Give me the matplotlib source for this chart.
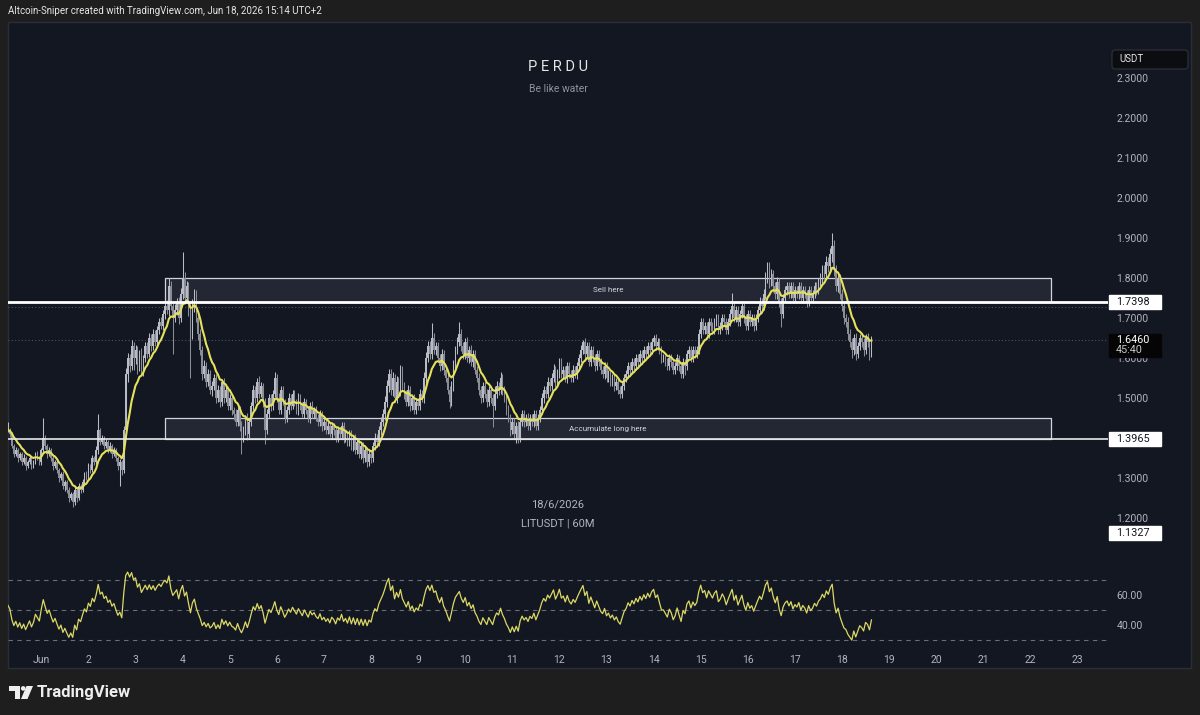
import numpy as np
import pandas as pd
import matplotlib
matplotlib.use("Agg")
import matplotlib.pyplot as plt
from matplotlib.patches import Rectangle, Polygon, Circle, FancyBboxPatch
import matplotlib.transforms as mtransforms

plt.rcParams['font.family'] = ['Roboto', 'DejaVu Sans']

# ---------------- data ----------------
first_hour = -17  # first candle, hours relative to Jun 1 00:00 (60M candles)

close = [
    # May 31 (last 17 hours)
    1.42, 1.41, 1.38, 1.36, 1.37, 1.35, 1.36, 1.34, 1.35, 1.33, 1.34, 1.35, 1.33, 1.34, 1.36, 1.35, 1.34,
    # Jun 1
    1.37, 1.40, 1.38, 1.36, 1.37, 1.35, 1.33, 1.34, 1.32, 1.30, 1.31, 1.28,
    1.29, 1.27, 1.25, 1.26, 1.24, 1.27, 1.25, 1.28, 1.27, 1.29, 1.31, 1.30,
    # Jun 2
    1.33, 1.32, 1.35, 1.34, 1.37, 1.42, 1.39, 1.40, 1.38, 1.39, 1.37, 1.38,
    1.36, 1.37, 1.35, 1.33, 1.34, 1.32, 1.42, 1.56, 1.60, 1.58, 1.63, 1.60,
    # Jun 3
    1.62, 1.58, 1.61, 1.57, 1.60, 1.63, 1.61, 1.65, 1.63, 1.66, 1.64, 1.67,
    1.69, 1.68, 1.71, 1.73, 1.72, 1.78, 1.73, 1.70, 1.72, 1.74, 1.70, 1.76,
    # Jun 4
    1.80, 1.75, 1.78, 1.72, 1.66, 1.73, 1.76, 1.70, 1.66, 1.62, 1.56, 1.58,
    1.54, 1.56, 1.52, 1.53, 1.55, 1.50, 1.52, 1.49, 1.54, 1.50, 1.52, 1.48,
    # Jun 5
    1.50, 1.47, 1.46, 1.44, 1.47, 1.43, 1.40, 1.42, 1.45, 1.41, 1.44, 1.48,
    1.52, 1.50, 1.54, 1.51, 1.53, 1.49, 1.42, 1.46, 1.50, 1.48, 1.51, 1.55,
    # Jun 6
    1.50, 1.47, 1.52, 1.49, 1.45, 1.47, 1.50, 1.48, 1.51, 1.49, 1.47, 1.50,
    1.48, 1.46, 1.49, 1.47, 1.45, 1.48, 1.46, 1.47, 1.45, 1.44, 1.46, 1.43,
    # Jun 7
    1.44, 1.42, 1.43, 1.41, 1.43, 1.42, 1.40, 1.42, 1.41, 1.43, 1.40, 1.41,
    1.39, 1.41, 1.38, 1.40, 1.37, 1.39, 1.36, 1.38, 1.35, 1.37, 1.34, 1.36,
    # Jun 8
    1.35, 1.38, 1.40, 1.39, 1.42, 1.44, 1.46, 1.49, 1.53, 1.56, 1.52, 1.55,
    1.50, 1.54, 1.52, 1.57, 1.53, 1.51, 1.49, 1.52, 1.48, 1.50, 1.47, 1.49,
    # Jun 9
    1.48, 1.51, 1.50, 1.55, 1.60, 1.63, 1.61, 1.65, 1.62, 1.63, 1.60, 1.58,
    1.61, 1.57, 1.55, 1.52, 1.49, 1.53, 1.58, 1.62, 1.64, 1.66, 1.63, 1.61,
    # Jun 10
    1.64, 1.60, 1.62, 1.59, 1.61, 1.57, 1.55, 1.52, 1.50, 1.53, 1.51, 1.49,
    1.52, 1.50, 1.48, 1.51, 1.53, 1.52, 1.55, 1.52, 1.50, 1.47, 1.45, 1.42,
    # Jun 11
    1.44, 1.41, 1.43, 1.40, 1.44, 1.46, 1.44, 1.45, 1.43, 1.45, 1.44, 1.46,
    1.43, 1.45, 1.47, 1.50, 1.52, 1.51, 1.54, 1.53, 1.55, 1.57, 1.54, 1.56,
    # Jun 12
    1.59, 1.56, 1.57, 1.55, 1.58, 1.56, 1.55, 1.57, 1.56, 1.58, 1.60, 1.62,
    1.64, 1.61, 1.63, 1.59, 1.62, 1.60, 1.58, 1.61, 1.59, 1.57, 1.56, 1.58,
    # Jun 13
    1.55, 1.56, 1.54, 1.55, 1.53, 1.54, 1.52, 1.51, 1.53, 1.55, 1.56, 1.58,
    1.57, 1.59, 1.58, 1.60, 1.59, 1.61, 1.60, 1.62, 1.61, 1.63, 1.62, 1.64,
    # Jun 14
    1.65, 1.63, 1.64, 1.62, 1.60, 1.60, 1.59, 1.58, 1.60, 1.59, 1.57, 1.58,
    1.60, 1.58, 1.56, 1.59, 1.58, 1.61, 1.62, 1.60, 1.62, 1.61, 1.62, 1.66,
    # Jun 15
    1.69, 1.67, 1.68, 1.66, 1.69, 1.68, 1.67, 1.69, 1.70, 1.67, 1.68, 1.70,
    1.69, 1.67, 1.69, 1.71, 1.73, 1.70, 1.72, 1.69, 1.71, 1.73, 1.70, 1.68,
    # Jun 16
    1.71, 1.69, 1.70, 1.68, 1.70, 1.72, 1.74, 1.73, 1.76, 1.80, 1.82, 1.79,
    1.81, 1.78, 1.76, 1.79, 1.74, 1.71, 1.75, 1.77, 1.78, 1.76, 1.78, 1.75,
    # Jun 17
    1.77, 1.76, 1.78, 1.75, 1.77, 1.76, 1.74, 1.77, 1.75, 1.76, 1.78, 1.77,
    1.79, 1.80, 1.82, 1.81, 1.84, 1.83, 1.86, 1.88, 1.82, 1.78, 1.80, 1.76,
    # Jun 18 (to 15:00)
    1.73, 1.70, 1.69, 1.66, 1.64, 1.62, 1.65, 1.61, 1.63, 1.65, 1.64, 1.62,
    1.65, 1.64, 1.61, 1.646,
]

# upper / lower wick lengths beyond the candle body, in thousandths of USDT
wick_up = [
    20, 5, 6, 4, 7, 5, 6, 4, 9, 5, 6, 7, 4, 6, 5, 8, 6,
    6, 50, 8, 5, 7, 4, 6, 5, 9, 6, 4, 7, 5, 6, 8, 5, 6, 9, 4, 7, 6, 8, 5, 7,
    7, 5, 8, 6, 9, 40, 6, 8, 5, 7, 6, 9, 5, 7, 6, 4, 8, 5, 10, 15, 12, 9, 14, 10,
    12, 10, 9, 14, 8, 11, 10, 12, 9, 13, 10, 11, 9, 12, 10, 8, 15, 20, 12, 10, 14, 11, 13, 15,
    65, 15, 12, 10, 14, 18, 12, 10, 15, 12, 10, 14, 9, 12, 10, 13, 11, 9, 12, 10, 8, 11, 9, 10,
    9, 11, 8, 12, 10, 9, 13, 11, 8, 12, 10, 9, 12, 10, 9, 14, 11, 8, 10, 12, 9, 11, 10, 15,
    10, 12, 9, 11, 8, 10, 12, 9, 11, 10, 8, 12, 9, 10, 11, 8, 10, 9, 12, 8, 10, 9, 11, 8,
    9, 8, 10, 9, 11, 8, 10, 9, 8, 10, 9, 11, 8, 10, 9, 8, 10, 9, 11, 8, 9, 10, 8, 9,
    9, 10, 12, 11, 10, 13, 12, 15, 14, 13, 12, 15, 11, 14, 12, 13, 10, 11, 9, 12, 10, 11, 9, 10,
    10, 12, 11, 14, 15, 13, 12, 37, 12, 10, 11, 9, 12, 10, 11, 9, 10, 12, 14, 11, 12, 30, 12, 10,
    11, 12, 10, 13, 9, 11, 10, 12, 9, 11, 10, 12, 9, 11, 10, 20, 12, 10, 14, 11, 9, 10, 12, 9,
    10, 11, 9, 12, 10, 11, 9, 10, 12, 9, 11, 10, 9, 11, 10, 12, 11, 10, 13, 11, 12, 14, 10, 12,
    10, 9, 11, 10, 9, 11, 10, 12, 9, 10, 11, 12, 5, 10, 11, 9, 10, 11, 9, 10, 11, 9, 10, 11,
    9, 10, 8, 11, 9, 10, 8, 9, 11, 10, 9, 11, 10, 9, 11, 10, 9, 10, 11, 9, 10, 9, 11, 10,
    8, 10, 9, 11, 9, 10, 8, 9, 10, 9, 8, 10, 9, 8, 10, 9, 8, 10, 11, 9, 10, 9, 11, 12,
    10, 9, 11, 10, 9, 11, 10, 9, 10, 11, 9, 10, 11, 9, 10, 12, 33, 10, 11, 9, 10, 12, 9, 10,
    10, 9, 11, 10, 9, 11, 12, 10, 13, 15, 20, 20, 12, 10, 11, 12, 10, 9, 11, 10, 9, 11, 10, 9,
    10, 9, 11, 10, 9, 11, 10, 9, 10, 11, 9, 10, 11, 12, 13, 12, 14, 13, 15, 32, 14, 12, 13, 11,
    12, 10, 11, 13, 12, 10, 11, 12, 10, 11, 12, 10, 11, 12, 10, 8,
]
wick_dn = [
    6, 7, 5, 8, 4, 9, 6, 7, 5, 10, 6, 4, 8, 5, 6, 4, 7,
    8, 6, 7, 9, 5, 8, 10, 6, 7, 9, 6, 8, 12, 7, 9, 6, 13, 8, 10, 6, 7, 5, 8, 6,
    6, 8, 5, 7, 6, 9, 7, 5, 8, 6, 7, 5, 9, 6, 8, 10, 50, 12, 8, 6, 20, 15, 9, 30,
    15, 20, 12, 10, 14, 9, 11, 8, 12, 10, 9, 13, 11, 8, 10, 12, 9, 14, 10, 90, 10, 12, 14, 10,
    12, 15, 10, 14, 110, 12, 15, 10, 14, 12, 16, 10, 13, 9, 11, 14, 10, 12, 9, 13, 10, 12, 9, 11,
    10, 12, 14, 9, 11, 12, 40, 10, 12, 14, 9, 11, 10, 12, 9, 10, 8, 12, 35, 10, 9, 12, 10, 8,
    9, 11, 10, 8, 12, 9, 10, 11, 8, 10, 9, 12, 10, 8, 11, 9, 10, 12, 9, 11, 8, 10, 9, 12,
    10, 9, 11, 8, 10, 12, 9, 10, 11, 9, 12, 10, 9, 11, 10, 12, 9, 11, 10, 13, 12, 10, 13, 11,
    12, 10, 9, 11, 10, 12, 11, 14, 13, 15, 12, 14, 11, 13, 12, 14, 10, 12, 11, 9, 12, 10, 11, 9,
    9, 11, 10, 12, 14, 11, 12, 13, 10, 12, 11, 13, 9, 12, 10, 11, 14, 10, 12, 13, 11, 10, 12, 13,
    12, 10, 13, 11, 12, 10, 11, 13, 12, 10, 11, 12, 10, 13, 53, 11, 10, 12, 11, 13, 10, 12, 11, 14,
    11, 13, 23, 12, 10, 11, 12, 10, 11, 9, 10, 12, 11, 10, 9, 11, 12, 10, 11, 12, 10, 11, 12, 10,
    9, 10, 11, 9, 12, 10, 11, 9, 10, 12, 9, 11, 10, 12, 11, 10, 9, 11, 12, 10, 9, 11, 10, 12,
    10, 9, 11, 10, 12, 9, 11, 10, 9, 11, 10, 9, 11, 10, 9, 10, 11, 9, 10, 9, 11, 10, 9, 10,
    9, 11, 10, 9, 12, 10, 11, 9, 10, 12, 11, 9, 10, 12, 11, 10, 23, 9, 10, 11, 9, 10, 9, 10,
    9, 10, 11, 9, 10, 12, 9, 10, 11, 9, 10, 11, 10, 9, 11, 10, 12, 9, 10, 11, 9, 10, 12, 11,
    11, 10, 9, 12, 10, 11, 10, 12, 11, 13, 12, 14, 11, 15, 12, 13, 12, 33, 11, 10, 12, 10, 11, 12,
    11, 10, 12, 9, 11, 10, 12, 11, 10, 9, 11, 12, 10, 11, 12, 13, 11, 14, 12, 20, 15, 12, 14, 13,
    13, 14, 12, 15, 13, 20, 12, 15, 11, 10, 12, 14, 11, 13, 15, 8,
]

price_ticks = [1.2, 1.3, 1.5, 1.6, 1.7, 1.8, 1.9, 2.0, 2.1, 2.2, 2.3]
day_labels = ['Jun'] + [str(d) for d in range(2, 24)]
rsi_ticks = [40, 60]
rsi_levels = [30, 50, 70]

resistance = 1.7398
support = 1.3965
last_price = 1.6460
countdown = '45:40'
low_label = 1.1327
prev_level = 1.7275
zone_names = ['Sell here', 'Accumulate long here']
zone_low = [1.7398, 1.3965]
zone_high = [1.80, 1.45]
zone_start_h = 63
zone_end_h = 514.5
ma_len = 10
rsi_len = 14
rsi_seed_gain = 0.0085   # average gain / loss carried in from history before the first bar
rsi_seed_loss = 0.0075

# ---------------- derived series ----------------
n = min(len(close), len(wick_up), len(wick_dn))
c = np.array(close[:n], dtype=float)
hrs = np.arange(n) + first_hour
o = np.r_[c[0], c[:-1]]
hi = np.maximum(o, c) + np.array(wick_up[:n]) / 1000.0
lo = np.minimum(o, c) - np.array(wick_dn[:n]) / 1000.0
ma = pd.Series(c).ewm(span=ma_len, adjust=False).mean().values

d = np.diff(c, prepend=c[0])
ag, al = rsi_seed_gain, rsi_seed_loss
rsi = np.empty(n)
for i in range(n):
    ag = (ag * (rsi_len - 1) + max(d[i], 0)) / rsi_len
    al = (al * (rsi_len - 1) + max(-d[i], 0)) / rsi_len
    rsi[i] = 100 * ag / (ag + al)

# ---------------- layout (pixels) ----------------
W, H = 1200, 715
BG = '#131722'
TXT = '#b2b5be'
px_per_h = 47.1 / 24.0
x0_px = 41.3
def h_of(px):
    return (px - x0_px) / px_per_h

fig = plt.figure(figsize=(W / 100, H / 100), dpi=100, facecolor='#1e1e1e')

ax_bg = fig.add_axes([0, 0, 1, 1], zorder=0)
ax_bg.set_xlim(0, W)
ax_bg.set_ylim(H, 0)
ax_bg.axis('off')
ax_bg.add_patch(Rectangle((7.5, 21.5), 1183, 646.5, facecolor=BG, edgecolor='#2a2e39', lw=1))

L, R = 8, 1108
ax = fig.add_axes([L / W, 1 - 565 / H, (R - L) / W, (565 - 22) / H], zorder=2)
ax_r = fig.add_axes([L / W, 1 - 648 / H, (R - L) / W, (648 - 568) / H], zorder=2)
for a in (ax, ax_r):
    a.set_facecolor('none')
    for s in a.spines.values():
        s.set_visible(False)
    a.set_xlim(h_of(L), h_of(R))

ax.set_ylim(2.3 - (565 - 78) / 400, 2.3 + (78 - 22) / 400)
ax_r.set_ylim(70 - (648 - 580) / 1.5, 70 + (580 - 568) / 1.5)

# zones
for name, zl, zh in zip(zone_names, zone_low, zone_high):
    ax.add_patch(Rectangle((zone_start_h, zl), zone_end_h - zone_start_h, zh - zl,
                           facecolor='#222733', edgecolor='#d1d4dc', lw=0.9, zorder=1))
    ax.text((zone_start_h + zone_end_h) / 2, (zl + zh) / 2, name, color='#d1d4dc',
            fontsize=5.8, ha='center', va='center', zorder=5)

# dotted reference lines
ax.axhline(last_price, color='#50535e', lw=0.8, ls=(0, (1, 2)), zorder=1)
ax.axhline(prev_level, color='#50535e', lw=0.8, ls=(0, (1, 2)), zorder=1)

# candles
up = c >= o
col = np.where(up, '#b9bcc4', '#8a8d96')
ax.vlines(hrs, lo, hi, colors=col, lw=0.75, zorder=3)
ax.bar(hrs, np.maximum(np.abs(c - o), 0.002), bottom=np.minimum(o, c), width=0.85,
       color=col, linewidth=0, zorder=3)
ax.plot(hrs, ma, color='#e6e15a', lw=1.5, zorder=4)

# horizontal levels
ax.axhline(resistance, color='white', lw=2.0, zorder=4)
ax.axhline(support, color='#e8e8e8', lw=1.2, zorder=4)

# price scale
ax.yaxis.tick_right()
ax.set_yticks(price_ticks)
ax.set_yticklabels([f'{v:.4f}' for v in price_ticks])
ax.tick_params(axis='y', length=0, pad=6, labelsize=7.5, labelcolor=TXT)
ax.set_xticks([])

trans = mtransforms.blended_transform_factory(ax.transAxes, ax.transData)
bx0 = (1109 - L) / (R - L)
bw = (1161 - 1109) / (R - L)
tx = (1116 - L) / (R - L)
for v in (resistance, support):
    ax.add_patch(Rectangle((bx0, v - 0.0175), bw, 0.035, transform=trans, clip_on=False,
                           facecolor='white', edgecolor='white', zorder=6))
    ax.text(tx, v, f'{v:.4f}', transform=trans, color='#131722', fontsize=7.8,
            va='center', ha='left', zorder=7, clip_on=False)
trans_low = mtransforms.offset_copy(trans, fig=fig, x=0, y=12, units='dots')
ax.add_patch(Rectangle((bx0, low_label - 0.0175), bw, 0.035, transform=trans_low, clip_on=False,
                       facecolor='white', edgecolor='white', zorder=6))
ax.text(tx, low_label, f'{low_label:.4f}', transform=trans_low, color='#131722', fontsize=7.8,
        va='center', ha='left', zorder=7, clip_on=False)
# current price
ax.add_patch(Rectangle((bx0, last_price - 0.0435), bw, 0.0575, transform=trans, clip_on=False,
                       facecolor='#050505', edgecolor='#050505', zorder=6))
ax.text(tx, last_price, f'{last_price:.4f}', transform=trans, color='white', fontsize=7.8,
        va='center', ha='left', zorder=7, clip_on=False)
ax.text(tx, last_price - 0.026, countdown, transform=trans, color='#c8c8c8', fontsize=7.8,
        va='center', ha='left', zorder=7, clip_on=False)

# RSI pane
for lv in rsi_levels:
    ax_r.axhline(lv, color='#6a6d78', lw=0.8, ls=(0, (4, 4)))
ax_r.plot(hrs, rsi, color='#dcd865', lw=0.9)
ax_r.yaxis.tick_right()
ax_r.set_yticks(rsi_ticks)
ax_r.set_yticklabels([f'{v:.2f}' for v in rsi_ticks])
ax_r.tick_params(axis='y', length=0, pad=6, labelsize=7.5, labelcolor=TXT)
ax_r.set_xticks([24 * i for i in range(len(day_labels))])
ax_r.set_xticklabels(day_labels)
ax_r.tick_params(axis='x', length=0, pad=5, labelsize=7.5, labelcolor=TXT)

# texts
ax_bg.text(8, 11, 'Altcoin-Sniper created with TradingView.com, Jun 18, 2026 15:14 UTC+2',
           color='#e6e6e6', fontsize=7.0, va='center', ha='left')
ax_bg.text(558, 67, 'P E R D U', color='#e6e6e6', fontsize=10.5, ha='center', va='center')
ax_bg.text(558, 89, 'Be like water', color='#8f929c', fontsize=7.5, ha='center', va='center')
ax_bg.text(558, 505, '18/6/2026', color=TXT, fontsize=8, ha='center', va='center', zorder=3)
ax_bg.text(558, 523, 'LITUSDT | 60M', color=TXT, fontsize=8, ha='center', va='center', zorder=3)

# USDT box
ax_bg.add_patch(FancyBboxPatch((1112, 50), 76, 19, boxstyle='round,pad=0,rounding_size=3',
                               facecolor='#0c0d10', edgecolor='#30333d', lw=0.8))
ax_bg.text(1119, 59.5, 'USDT', color='#e6e6e6', fontsize=7, va='center', ha='left')

# TradingView logo
lc = '#eeeeee'
ax_bg.add_patch(Rectangle((9, 686), 10.5, 4.5, facecolor=lc, lw=0))
ax_bg.add_patch(Rectangle((14.5, 686), 5, 13, facecolor=lc, lw=0))
ax_bg.add_patch(Circle((23.2, 688.4), 2.3, facecolor=lc, lw=0))
ax_bg.add_patch(Polygon([(26.5, 686), (33, 686), (27.5, 699), (21, 699)], facecolor=lc, lw=0))
ax_bg.text(37, 692.5, 'TradingView', color='#eeeeee', fontsize=12, fontweight='bold',
           va='center', ha='left')

fig.savefig('out.png', dpi=100, facecolor=fig.get_facecolor())
